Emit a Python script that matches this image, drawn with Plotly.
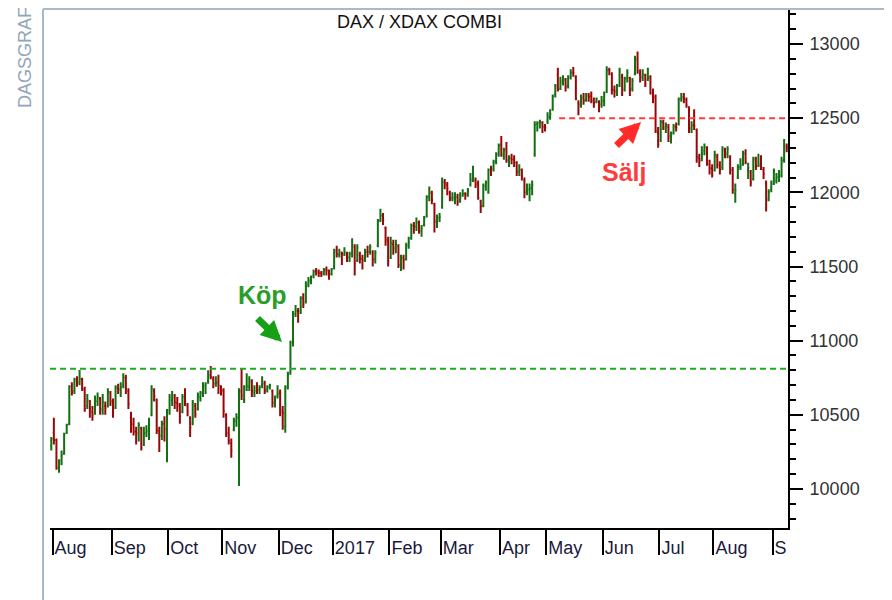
import plotly.graph_objects as go
import pandas as pd

# ---------------- data ----------------
holidays = ["2016-12-26", "2017-04-14", "2017-04-17", "2017-05-01"]
dates = [d for d in pd.bdate_range("2016-07-29", "2017-09-08")
         if d.strftime("%Y-%m-%d") not in holidays]

opens = [
    10290,
    10380, 10330, 10140, 10190, 10240, 10380, 10440, 10690, 10660, 10730, 10720, 10740, 10670, 10560, 10590, 10520, 10510, 10590, 10610, 10540, 10560, 10560, 10650,
    10580, 10550, 10680, 10670, 10700, 10750, 10660, 10480, 10440, 10390, 10370, 10410, 10300, 10380, 10390, 10500, 10660, 10600, 10390, 10360, 10440, 10290,
    10530, 10600, 10630, 10580, 10560, 10520, 10620, 10560, 10480, 10440, 10560, 10540, 10620, 10650, 10690, 10730, 10770, 10740, 10710, 10720, 10680,
    10660, 10500, 10380, 10310, 10400, 10460, 10480, 10660, 10600, 10690, 10690, 10720, 10650, 10680, 10670, 10700, 10710, 10670, 10690, 10660, 10580, 10630,
    10650, 10520, 10420, 10690, 10790, 11000, 11180, 11200, 11200, 11290, 11260, 11380, 11400, 11440, 11470, 11460, 11455, 11460, 11480, 11470, 11450,
    11500, 11610, 11580, 11595, 11580, 11590, 11560, 11590, 11630, 11540, 11580, 11550, 11550, 11600, 11600, 11600, 11550, 11640, 11810, 11840, 11760, 11670,
    11560, 11650, 11620, 11640, 11510, 11560, 11550, 11640, 11690, 11775, 11770, 11800, 11740, 11780, 11840, 11970, 12000, 11920, 11800, 11830,
    11900, 12070, 12050, 12000, 11960, 11960, 11970, 11950, 11980, 11990, 11980, 12050, 12090, 12080, 12060, 11940, 11910, 12050, 12000, 12155, 12160, 12210, 12260,
    12320, 12250, 12290, 12210, 12230, 12220, 12200, 12140, 12150, 12080, 12000, 12020, 12030, 12260, 12460, 12470, 12470, 12440,
    12480, 12510, 12560, 12660, 12790, 12700, 12740, 12760, 12720, 12780, 12810, 12780, 12600, 12600, 12640, 12620, 12650, 12650, 12610, 12610, 12610, 12590,
    12620, 12680, 12825, 12800, 12690, 12680, 12720, 12780, 12700, 12770, 12770, 12700, 12800, 12900, 12800, 12780, 12790, 12760, 12780, 12660, 12640, 12400,
    12350, 12470, 12430, 12440, 12370, 12400, 12440, 12460, 12630, 12640, 12620, 12570, 12430, 12450, 12420, 12230, 12220, 12280, 12300, 12190, 12160,
    12150, 12240, 12190, 12170, 12280, 12260, 12240, 12150, 11990, 12100, 12170, 12190, 12260, 12150, 12140, 12090, 12220, 12180, 12190, 12150, 12060, 11960, 12020,
    12070, 12080, 12110, 12110, 12220, 12310,
]
highs = [
    10350,
    10480, 10340, 10200, 10260, 10380, 10440, 10700, 10720, 10750, 10760, 10802, 10750, 10690, 10640, 10600, 10560, 10630, 10650, 10620, 10640, 10590, 10680, 10660,
    10610, 10700, 10710, 10720, 10780, 10770, 10680, 10520, 10480, 10420, 10450, 10420, 10420, 10430, 10480, 10700, 10680, 10610, 10420, 10460, 10490, 10540,
    10640, 10660, 10640, 10620, 10580, 10640, 10680, 10580, 10490, 10600, 10580, 10650, 10660, 10720, 10720, 10800, 10830, 10760, 10760, 10770, 10700,
    10680, 10510, 10420, 10340, 10480, 10510, 10680, 10810, 10700, 10780, 10760, 10740, 10700, 10720, 10700, 10760, 10730, 10700, 10710, 10670, 10630, 10700,
    10670, 10560, 10700, 10790, 11000, 11200, 11240, 11220, 11300, 11320, 11400, 11430, 11440, 11480, 11490, 11480, 11470, 11490, 11500, 11480, 11490,
    11620, 11640, 11620, 11600, 11630, 11600, 11600, 11690, 11650, 11650, 11600, 11580, 11620, 11640, 11650, 11610, 11610, 11820, 11890, 11860, 11770, 11700,
    11700, 11680, 11680, 11650, 11580, 11580, 11660, 11700, 11790, 11800, 11830, 11810, 11780, 11840, 11980, 12040, 12010, 11930, 11850, 11860,
    12100, 12090, 12070, 12010, 12000, 12000, 11990, 12000, 12020, 12000, 12030, 12130, 12180, 12100, 12080, 11950, 12060, 12080, 12160, 12180, 12220, 12270, 12330,
    12380, 12300, 12340, 12250, 12260, 12250, 12210, 12190, 12160, 12100, 12060, 12060, 12080, 12480, 12480, 12490, 12480, 12460,
    12540, 12560, 12660, 12730, 12840, 12780, 12790, 12770, 12790, 12830, 12845, 12790, 12620, 12660, 12670, 12670, 12670, 12680, 12640, 12640, 12620, 12650,
    12680, 12850, 12840, 12810, 12720, 12730, 12840, 12800, 12780, 12830, 12780, 12770, 12920, 12950, 12830, 12830, 12800, 12840, 12790, 12700, 12660, 12440,
    12490, 12490, 12470, 12460, 12410, 12460, 12470, 12640, 12670, 12670, 12640, 12580, 12480, 12560, 12430, 12260, 12310, 12330, 12310, 12220, 12190,
    12280, 12260, 12210, 12310, 12300, 12310, 12250, 12170, 12060, 12190, 12230, 12280, 12290, 12200, 12150, 12240, 12240, 12260, 12250, 12170, 12080, 12020, 12080,
    12160, 12130, 12150, 12240, 12360, 12330,
]
lows = [
    10260,
    10300, 10130, 10110, 10160, 10230, 10370, 10430, 10630, 10640, 10690, 10700, 10660, 10520, 10540, 10480, 10460, 10500, 10560, 10500, 10500, 10500, 10550, 10560,
    10480, 10540, 10640, 10620, 10680, 10640, 10540, 10380, 10360, 10300, 10320, 10260, 10290, 10350, 10330, 10490, 10590, 10370, 10250, 10330, 10320, 10180,
    10500, 10560, 10540, 10520, 10440, 10510, 10560, 10490, 10350, 10430, 10480, 10530, 10590, 10620, 10640, 10710, 10740, 10680, 10690, 10640, 10630,
    10480, 10350, 10300, 10210, 10390, 10420, 10020, 10600, 10580, 10660, 10660, 10620, 10620, 10640, 10640, 10680, 10640, 10650, 10670, 10550, 10550, 10610,
    10490, 10400, 10380, 10670, 10770, 10960, 11160, 11120, 11180, 11220, 11250, 11360, 11380, 11420, 11440, 11430, 11430, 11440, 11440, 11410, 11440,
    11480, 11560, 11560, 11510, 11570, 11530, 11530, 11560, 11440, 11530, 11520, 11480, 11530, 11560, 11580, 11500, 11520, 11630, 11800, 11780, 11640, 11500,
    11550, 11580, 11590, 11490, 11470, 11480, 11540, 11620, 11680, 11720, 11740, 11720, 11700, 11770, 11830, 11940, 11920, 11730, 11760, 11800,
    11890, 12020, 11980, 11940, 11940, 11920, 11910, 11930, 11970, 11950, 11970, 12040, 12070, 12030, 11950, 11860, 11900, 12010, 11990, 12110, 12140, 12190, 12240,
    12240, 12220, 12200, 12170, 12190, 12170, 12110, 12110, 12080, 11960, 11980, 11940, 11980, 12240, 12410, 12430, 12400, 12410,
    12460, 12490, 12550, 12640, 12680, 12690, 12720, 12680, 12700, 12760, 12780, 12620, 12520, 12570, 12590, 12610, 12610, 12600, 12570, 12600, 12540, 12570,
    12580, 12670, 12790, 12660, 12640, 12650, 12710, 12650, 12680, 12740, 12650, 12680, 12790, 12800, 12740, 12750, 12710, 12750, 12660, 12600, 12400, 12300,
    12340, 12420, 12400, 12340, 12330, 12390, 12410, 12450, 12610, 12600, 12570, 12400, 12400, 12420, 12200, 12170, 12210, 12250, 12180, 12120, 12100,
    12140, 12160, 12120, 12150, 12230, 12230, 12120, 11990, 11930, 12090, 12150, 12180, 12190, 12090, 12040, 12080, 12150, 12170, 12150, 12090, 11870, 11940, 12000,
    12050, 12060, 12070, 12100, 12200, 12270,
]
closes = [
    10337,
    10330, 10144, 10170, 10228, 10367, 10432, 10693, 10651, 10742, 10713, 10740, 10677, 10537, 10603, 10544, 10495, 10593, 10622, 10529, 10587, 10544, 10657, 10593,
    10534, 10684, 10672, 10687, 10752, 10675, 10573, 10432, 10386, 10379, 10431, 10276, 10373, 10394, 10436, 10674, 10626, 10394, 10361, 10438, 10405, 10511,
    10619, 10619, 10585, 10569, 10490, 10624, 10577, 10523, 10414, 10580, 10503, 10631, 10645, 10701, 10711, 10761, 10757, 10709, 10717, 10696, 10665,
    10526, 10371, 10325, 10259, 10456, 10483, 10646, 10630, 10668, 10693, 10735, 10664, 10663, 10664, 10685, 10713, 10662, 10689, 10700, 10582, 10620, 10640,
    10534, 10513, 10684, 10776, 10986, 11179, 11203, 11190, 11284, 11245, 11366, 11404, 11427, 11464, 11468, 11456, 11450, 11473, 11475, 11451, 11481,
    11599, 11584, 11585, 11585, 11599, 11563, 11583, 11646, 11521, 11629, 11555, 11541, 11599, 11597, 11630, 11545, 11595, 11807, 11848, 11815, 11682, 11535,
    11659, 11627, 11651, 11510, 11549, 11543, 11643, 11666, 11774, 11771, 11794, 11757, 11758, 11827, 11968, 11998, 11948, 11804, 11822, 11834,
    12067, 12060, 12027, 11958, 11967, 11967, 11937, 11963, 11990, 11988, 12009, 12083, 12095, 12052, 11962, 11904, 12040, 12064, 12149, 12149, 12204, 12257, 12313,
    12257, 12282, 12218, 12230, 12225, 12201, 12139, 12154, 12109, 12000, 12017, 12027, 12048, 12455, 12467, 12472, 12444, 12438,
    12507, 12528, 12648, 12717, 12694, 12749, 12757, 12711, 12770, 12807, 12804, 12631, 12591, 12638, 12619, 12659, 12643, 12622, 12602, 12629, 12599, 12615,
    12664, 12823, 12822, 12690, 12678, 12714, 12816, 12690, 12765, 12806, 12692, 12753, 12889, 12815, 12774, 12794, 12733, 12771, 12671, 12647, 12416, 12325,
    12475, 12437, 12453, 12382, 12389, 12445, 12437, 12627, 12641, 12631, 12587, 12430, 12452, 12448, 12240, 12209, 12263, 12305, 12212, 12163, 12118,
    12251, 12182, 12154, 12298, 12257, 12292, 12154, 12015, 12014, 12165, 12178, 12263, 12204, 12165, 12066, 12230, 12174, 12181, 12168, 12123, 11946, 12002, 12056,
    12143, 12102, 12124, 12215, 12296, 12304,
]

month_labels = ["Aug", "Sep", "Oct", "Nov", "Dec", "2017", "Feb", "Mar",
                "Apr", "May", "Jun", "Jul", "Aug", "S"]
y_tick_values = [10000, 10500, 11000, 11500, 12000, 12500, 13000]
buy_level = 10811
sell_level = 12500
sell_line_start = "2017-05-09"

assert len(dates) == len(opens) == len(highs) == len(lows) == len(closes), (
    len(dates), len(opens), len(highs), len(lows), len(closes))

# ---------------- figure ----------------
n = len(dates)
xs = list(range(n))
month_starts = [i for i in range(1, n) if dates[i].month != dates[i - 1].month]
tickvals = [i - 0.5 for i in month_starts]
date_str = [d.strftime("%Y-%m-%d") for d in dates]
sell_idx = date_str.index(sell_line_start)

GREEN = "#126f12"
RED = "#990808"

fig = go.Figure(go.Ohlc(
    x=xs, open=opens, high=highs, low=lows, close=closes,
    increasing=dict(line=dict(color=GREEN, width=2)),
    decreasing=dict(line=dict(color=RED, width=2)),
    tickwidth=0.45, hoverinfo="skip",
))

# page has an 8px body margin: figure origin sits at page (8, 8)
OFF = 8
W, H = 884, 592
L, T = 50 - OFF, 9 - OFF
R = W - (788 - OFF)
B = H - (528 - OFF)
pw, ph = W - L - R, H - T - B

def px_x(page_x):
    return (page_x - OFF - L) / pw

def px_y(page_y):
    return (H - B - (page_y - OFF)) / ph

frame_col = "#a9bac9"
shapes = [
    dict(type="line", xref="paper", yref="y", x0=0, x1=1, y0=buy_level, y1=buy_level,
         line=dict(color="#22aa22", width=2, dash="6px,4px")),
    dict(type="line", xref="x", yref="y", x0=sell_idx - 0.5, x1=n - 0.5,
         y0=sell_level, y1=sell_level,
         line=dict(color="#ff3b3b", width=2, dash="6px,4px")),
    dict(type="line", xref="paper", yref="paper", x0=px_x(43), x1=px_x(900),
         y0=px_y(9), y1=px_y(9), line=dict(color=frame_col, width=2)),
    dict(type="line", xref="paper", yref="paper", x0=px_x(43), x1=px_x(43),
         y0=px_y(9), y1=px_y(610), line=dict(color=frame_col, width=2)),
]

font = "Liberation Sans, Arial, sans-serif"
annotations = [
    dict(text="DAX / XDAX COMBI", xref="paper", yref="paper", x=px_x(420), y=px_y(22),
         showarrow=False, font=dict(family=font, size=18, color="#111111"),
         xanchor="center", yanchor="middle"),
    dict(text="DAGSGRAF", xref="paper", yref="paper", x=px_x(25), y=px_y(58),
         showarrow=False, textangle=-90, font=dict(family=font, size=18, color="#8fa6ba"),
         xanchor="center", yanchor="middle"),
    dict(text="<b>Köp</b>", xref="paper", yref="paper", x=px_x(262), y=px_y(295),
         showarrow=False, font=dict(family=font, size=25, color="#2a9d2a"),
         xanchor="center", yanchor="middle"),
    dict(text="<b>Sälj</b>", xref="paper", yref="paper", x=px_x(624), y=px_y(172),
         showarrow=False, font=dict(family=font, size=25, color="#ff3b3b"),
         xanchor="center", yanchor="middle"),
    dict(text="", xref="paper", yref="paper", x=px_x(282), y=px_y(342),
         ax=-26, ay=-25, showarrow=True, arrowhead=2, arrowsize=0.6, arrowwidth=7,
         arrowcolor="#16a016"),
    dict(text="", xref="paper", yref="paper", x=px_x(641), y=px_y(122),
         ax=-26, ay=25, showarrow=True, arrowhead=2, arrowsize=0.6, arrowwidth=7,
         arrowcolor="#ff2a2a"),
]

fig.update_layout(
    width=W, height=H,
    margin=dict(l=L, r=R, t=T, b=B, pad=0),
    paper_bgcolor="white", plot_bgcolor="white",
    showlegend=False,
    shapes=shapes, annotations=annotations,
    font=dict(family=font),
    xaxis=dict(
        range=[-0.5, n - 0.5], rangeslider=dict(visible=False),
        showgrid=False, zeroline=False,
        showline=True, linecolor="black", linewidth=2,
        tickmode="array", tickvals=tickvals, ticktext=month_labels,
        ticks="outside", ticklen=25, tickwidth=2, tickcolor="black",
        ticklabelposition="outside right", ticklabelstandoff=2,
        tickfont=dict(family=font, size=18, color="#1a1a3a"),
    ),
    yaxis=dict(
        side="right", range=[9737, 13236],
        showgrid=False, zeroline=False,
        showline=True, linecolor="black", linewidth=2,
        tickmode="array", tickvals=y_tick_values, tickformat="d",
        ticks="outside", ticklen=13, tickwidth=2, tickcolor="black",
        ticklabelstandoff=3,
        minor=dict(dtick=100, ticks="outside", ticklen=6, tickwidth=2, tickcolor="black"),
        tickfont=dict(family=font, size=18, color="#333333"),
    ),
)

fig.write_html("out.html")
